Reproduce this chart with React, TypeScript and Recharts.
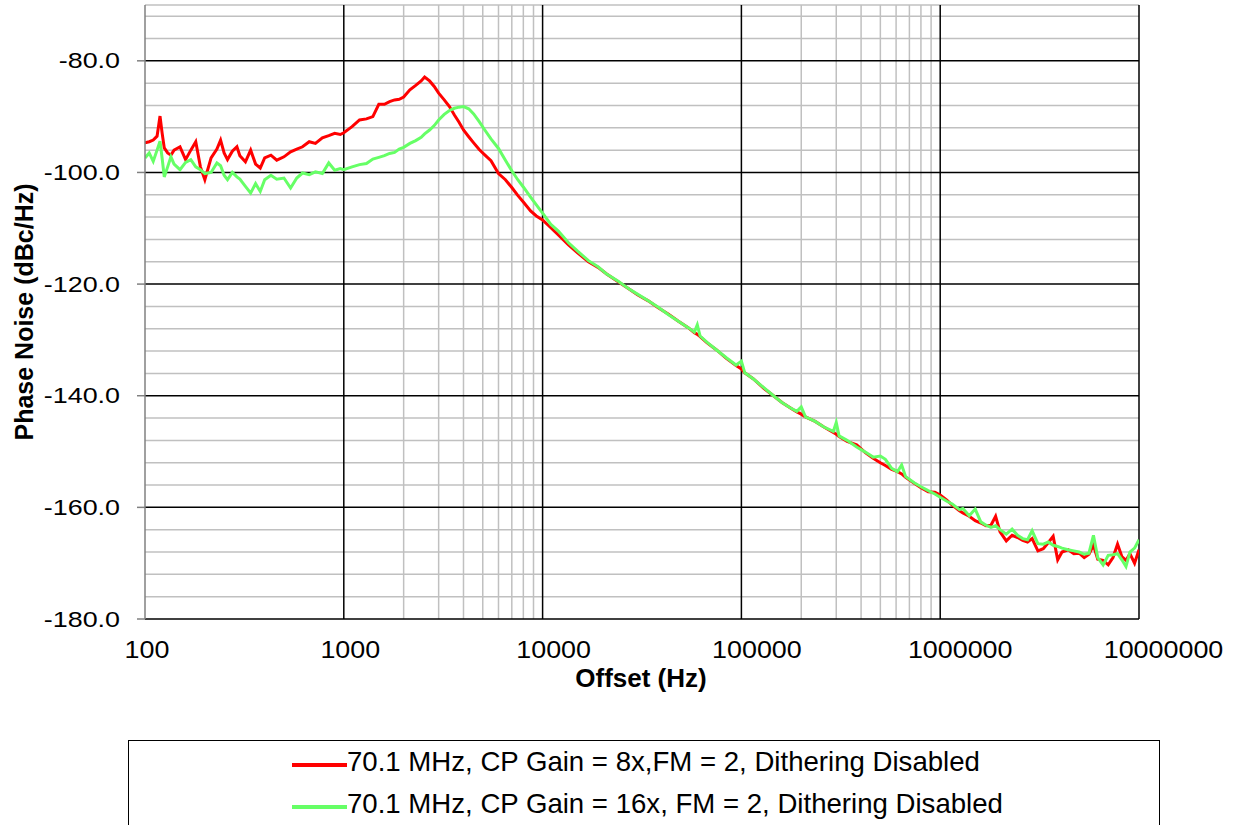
import React from "react";
import { LineChart, Line, XAxis, YAxis, CartesianGrid } from "recharts";

// offset frequency (Hz)
const freqs = [
  100, 105, 110, 115, 119, 122, 125, 130, 135, 140, 150, 160, 170, 180, 190, 200, 215, 230, 240, 250,
  260, 275, 290, 300, 320, 340, 360, 380, 400, 430, 460, 500, 540, 580, 620, 670, 720, 780, 840, 900,
  960, 1000,
  1100, 1200, 1300, 1400, 1500, 1600, 1700, 1800, 1900, 2000, 2150, 2300, 2450, 2550, 2700, 2850, 3000,
  3200, 3400, 3600, 3800, 4000, 4250, 4500, 4800, 5100, 5500, 6000, 6500, 7000, 7500, 8000, 8700, 9300,
  10000,
  11000, 12000, 13500, 15000, 17000, 19000, 21000, 24000, 27000, 30000, 34000, 38000, 43000, 48000,
  54000, 58000, 60000, 62000, 67000, 75000, 84000, 94000, 100000, 104000, 115000, 130000, 145000,
  160000, 175000, 190000, 200000, 210000, 235000, 260000, 290000, 300000, 310000, 340000, 380000,
  420000, 460000, 500000, 530000, 570000, 610000, 640000, 670000, 740000, 800000, 870000, 940000,
  1000000, 1080000,
  1150000, 1250000, 1300000, 1400000, 1500000, 1600000, 1700000, 1800000, 1900000, 2000000, 2150000,
  2300000, 2450000, 2600000, 2750000, 2900000, 3100000, 3300000, 3500000, 3700000, 3900000, 4100000,
  4400000, 4700000, 5000000, 5300000, 5600000, 5900000, 6200000, 6600000, 7000000, 7400000, 7800000,
  8200000, 8600000, 9000000, 9500000, 10000000,
];

// CP Gain = 8x
const gain8 = [
  -94.7, -94.5, -94.2, -93.5, -89.9, -93.0, -95.6, -96.5, -96.9, -96.0, -95.4, -97.7, -96.0, -94.5, -99.0,
  -101.3, -97.4, -95.8, -94.2, -96.5, -97.7, -96.2, -95.4, -97.0, -98.1, -96.0, -98.5, -99.2, -97.4, -96.9,
  -97.8, -97.2, -96.3, -95.8, -95.4, -94.5, -94.8, -93.8, -93.4, -93.0, -93.2, -92.9,
  -91.8, -90.6, -90.4, -90.0, -87.8, -87.8, -87.3, -87.0, -86.9, -86.5, -85.2, -84.4, -83.6, -82.9, -83.6,
  -84.6, -85.8, -87.0, -88.2, -89.7, -91.0, -92.4, -93.6, -94.7, -95.9, -96.8, -97.9, -100.2, -101.3,
  -102.7, -104.1, -105.3, -106.9, -107.8, -108.5,
  -109.9, -111.2, -113.0, -114.4, -116.0, -117.0, -118.2, -119.6, -120.8, -121.9, -123.0, -124.2, -125.4,
  -126.6, -127.8, -128.7, -129.0, -129.4, -130.5, -131.8, -133.3, -134.6, -135.2, -135.9, -137.0, -138.7,
  -140.0, -141.2, -142.1, -142.9, -143.3, -143.8, -144.6, -145.6, -146.6, -146.9, -147.3, -148.2, -148.8,
  -150.2, -151.2, -152.0, -152.5, -153.2, -153.6, -154.0, -154.6, -155.7, -156.5, -157.2, -157.3, -157.8,
  -158.7,
  -159.6, -160.6, -161.0, -161.6, -162.4, -162.8, -163.3, -163.2, -161.6, -164.4, -166.0, -165.0, -165.4,
  -165.9, -166.2, -165.6, -167.8, -167.4, -166.3, -165.2, -169.4, -168.0, -167.6, -168.3, -168.2, -169.0,
  -168.4, -166.8, -169.3, -169.5, -170.3, -169.0, -166.6, -168.8, -169.5, -168.3, -170.0, -167.6,
];

// CP Gain = 16x
const gain16 = [
  -97.4, -96.5, -98.0, -96.0, -94.4, -97.5, -100.8, -99.0, -97.2, -98.5, -99.5, -98.2, -97.7, -99.0, -99.5,
  -100.2, -100.0, -98.3, -98.8, -100.5, -101.3, -100.0, -100.8, -101.2, -102.5, -103.7, -102.0, -103.4,
  -101.3, -100.5, -101.2, -101.0, -102.8, -101.0, -100.1, -100.4, -99.9, -100.2, -98.3, -99.6, -99.3, -99.5,
  -99.0, -98.6, -98.4, -97.6, -97.3, -97.0, -96.6, -96.4, -95.8, -95.5, -94.8, -94.3, -93.7, -93.1, -92.4,
  -91.6, -90.6, -89.6, -88.9, -88.5, -88.3, -88.2, -88.6, -89.5, -90.9, -92.3, -94.0, -95.7, -97.8, -99.7,
  -101.3, -102.6, -104.4, -105.8, -107.3,
  -109.3, -110.5, -112.6, -114.1, -115.8, -116.9, -118.2, -119.5, -120.8, -121.8, -123.0, -124.1, -125.5,
  -126.6, -127.8, -128.6, -127.3, -129.3, -130.4, -131.8, -133.2, -134.5, -133.8, -135.9, -137.0, -138.6,
  -140.0, -141.2, -142.1, -142.8, -142.0, -143.8, -144.6, -145.6, -146.4, -144.8, -147.2, -148.0, -149.2,
  -150.1, -151.0, -150.8, -151.4, -153.0, -153.6, -152.4, -154.5, -155.6, -156.3, -157.0, -157.6, -158.2,
  -158.9,
  -159.4, -160.4, -160.2, -161.5, -160.3, -162.6, -163.2, -163.6, -163.3, -164.0, -164.8, -163.9, -165.0,
  -165.6, -165.8, -164.2, -166.5, -166.6, -166.2, -166.8, -167.0, -167.3, -167.6, -167.8, -168.0, -168.4,
  -168.2, -165.0, -169.0, -170.3, -168.6, -168.5, -168.3, -169.4, -170.6, -168.0, -167.3, -165.8,
];

const seriesNames = [
  "70.1 MHz, CP Gain = 8x,FM = 2, Dithering Disabled",
  "70.1 MHz, CP Gain = 16x, FM = 2, Dithering Disabled",
];
const seriesColors = ["#ff0000", "#66ff66"];

const xTicks = [100, 1000, 10000, 100000, 1000000, 10000000];
const yTicks = [-180, -160, -140, -120, -100, -80];
const xMinorGrid = [2000, 3000, 4000, 5000, 6000, 7000, 8000, 9000, 200000, 300000, 400000, 500000, 600000, 700000, 800000, 900000];
const xMajorGrid = [1000, 10000, 100000, 1000000, 10000000];
const yMinorGrid = [
  -176, -172, -168, -164, -156, -152, -148, -144, -136, -132, -128, -124, -116, -112, -108, -104, -96, -92,
  -88, -84, -76, -72, -70,
];

const data = freqs.map((f, i) => ({ f, a: gain8[i], b: gain16[i] }));

const FONT = '"Liberation Sans", Arial, sans-serif';

const YTick = (props: any) => {
  const { x, y, payload } = props;
  return (
    <text
      transform={`translate(${x},${y}) scale(1.25,1)`}
      textAnchor="end"
      dy="0.355em"
      fontSize={21.5}
      fontFamily={FONT}
      fill="#000"
    >
      {Number(payload.value).toFixed(1)}
    </text>
  );
};

const XTick = (props: any) => {
  const { x, y, payload } = props;
  const label = String(payload.value);
  // the longer labels sit a little right of their gridline in the original
  const dx = (label.length - 3) * 4.5 + 2;
  return (
    <text
      transform={`translate(${x + dx},${y + 39}) scale(1.12,1)`}
      textAnchor="middle"
      fontSize={24}
      fontFamily={FONT}
      fill="#000"
    >
      {label}
    </text>
  );
};

export default function App() {
  return (
    <div style={{ position: "absolute", left: 0, top: 0, width: 1237, height: 825, overflow: "hidden", background: "#fff" }}>
      <LineChart width={1237} height={825} data={data} margin={{ top: 5, right: 98, bottom: 166, left: 0 }}>
        <CartesianGrid horizontalValues={yMinorGrid} verticalValues={xMinorGrid} stroke="#c0c0c0" strokeWidth={1.5} />
        <CartesianGrid horizontalValues={yTicks} verticalValues={xMajorGrid} stroke="#000" strokeWidth={1.5} />
        <XAxis
          dataKey="f"
          type="number"
          scale="log"
          domain={[100, 10000000]}
          ticks={xTicks}
          interval={0}
          allowDataOverflow
          axisLine={false}
          tickLine={false}
          tickSize={0}
          tickMargin={0}
          height={40}
          tick={XTick}
          label={{
            content: () => (
              <text x={641} y={687} textAnchor="middle" fontSize={26} fontWeight="bold" fontFamily={FONT} fill="#000">
                Offset (Hz)
              </text>
            ),
          }}
        />
        <YAxis
          type="number"
          domain={[-180, -70]}
          ticks={yTicks}
          interval={0}
          allowDataOverflow
          width={145}
          tickSize={8}
          tickMargin={17}
          axisLine={{ stroke: "#808080", strokeWidth: 1.5 }}
          tickLine={{ stroke: "#808080", strokeWidth: 1.5 }}
          tick={YTick}
          label={{
            content: () => (
              <text
                transform="translate(33,312) rotate(-90)"
                textAnchor="middle"
                fontSize={25}
                fontWeight="bold"
                fontFamily={FONT}
                fill="#000"
              >
                Phase Noise (dBc/Hz)
              </text>
            ),
          }}
        />
        <Line type="linear" dataKey="a" name={seriesNames[0]} stroke={seriesColors[0]} strokeWidth={3} dot={false} isAnimationActive={false} />
        <Line type="linear" dataKey="b" name={seriesNames[1]} stroke={seriesColors[1]} strokeWidth={3} dot={false} isAnimationActive={false} />
      </LineChart>
      <div
        style={{
          position: "absolute",
          left: 128,
          top: 740,
          width: 1032,
          height: 110,
          border: "1.5px solid #000",
          boxSizing: "border-box",
          fontFamily: FONT,
        }}
      >
        {seriesNames.map((name, i) => (
          <div key={name} style={{ position: "absolute", left: 163, top: 6.7 + i * 42, height: 27, whiteSpace: "nowrap" }}>
            <span style={{ display: "inline-block", width: 55, height: 4, background: seriesColors[i], verticalAlign: "middle", position: "relative", top: -1 }} />
            <span style={{ fontSize: 27.6, lineHeight: "27px", color: "#000" }}>{name}</span>
          </div>
        ))}
      </div>
    </div>
  );
}
